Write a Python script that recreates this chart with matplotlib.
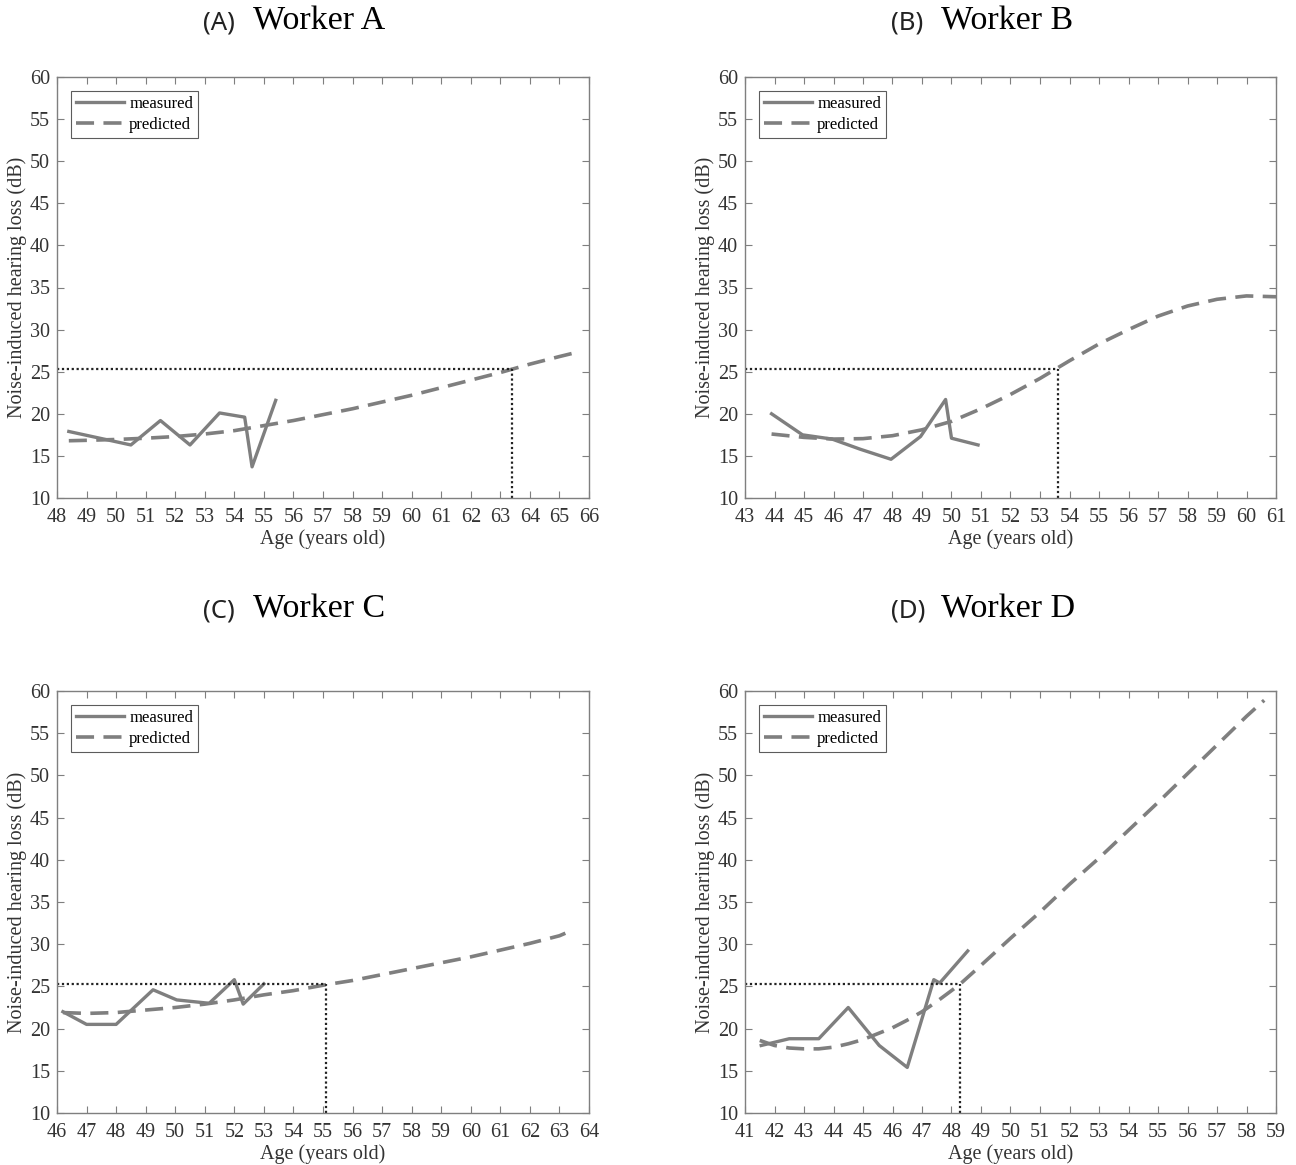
import matplotlib
matplotlib.use('Agg')
import matplotlib.pyplot as plt
import numpy as np

# measured hearing loss per worker (age, dB)
A_meas_age = [48.4, 50.5, 51.5, 52.5, 53.5, 54.35, 54.6, 55.4]
A_meas_val = [17.9, 16.3, 19.2, 16.3, 20.1, 19.6, 13.7, 21.6]
B_meas_age = [43.9, 44.95, 45.95, 46.9, 47.95, 48.95, 49.8, 50.0, 50.9]
B_meas_val = [20.0, 17.5, 17.0, 15.8, 14.6, 17.3, 21.7, 17.1, 16.3]
C_meas_age = [46.2, 47.0, 48.0, 49.25, 50.05, 51.15, 52.0, 52.3, 53.0]
C_meas_val = [22.0, 20.5, 20.5, 24.6, 23.4, 23.0, 25.8, 22.9, 25.3]
D_meas_age = [41.55, 42.5, 43.5, 44.5, 45.55, 46.5, 47.4, 47.6, 48.55]
D_meas_val = [18.0, 18.8, 18.8, 22.5, 18.0, 15.4, 25.8, 25.4, 29.2]

# predicted hearing loss curves
A_pred_age = [48.4, 49, 50, 51, 52, 53, 54, 55, 56, 57, 58, 59, 60, 61, 62, 63, 64, 65, 65.7]
A_pred_val = [16.8, 16.85, 16.95, 17.1, 17.3, 17.6, 18.0, 18.6, 19.2, 19.9, 20.6,
              21.4, 22.2, 23.1, 24.0, 24.9, 25.9, 26.8, 27.4]
B_pred_age = [43.9, 45, 46, 47, 48, 49, 50, 51, 52, 53, 54, 55, 56, 57, 58, 59, 60, 61]
B_pred_val = [17.6, 17.2, 17.0, 17.05, 17.4, 18.1, 19.1, 20.6, 22.3, 24.2, 26.3,
              28.3, 30.0, 31.6, 32.8, 33.6, 34.0, 33.9]
C_pred_age = [46.2, 47, 48, 49, 50, 51, 52, 53, 54, 55.1, 56, 57, 58, 59, 60, 61, 62, 63, 63.2]
C_pred_val = [21.9, 21.8, 21.9, 22.2, 22.5, 22.9, 23.4, 24.0, 24.5, 25.2, 25.7,
              26.4, 27.1, 27.8, 28.5, 29.3, 30.1, 31.0, 31.3]
D_pred_age = [41.5, 42, 42.5, 43, 43.5, 44, 44.5, 45, 45.5, 46, 46.5, 47, 47.5, 48,
              48.3, 49, 50, 51, 52, 53, 54, 55, 56, 57, 58, 58.6]
D_pred_val = [18.6, 18.0, 17.7, 17.6, 17.6, 17.8, 18.2, 18.7, 19.4, 20.1, 21.0,
              22.0, 23.2, 24.5, 25.3, 27.5, 30.7, 33.8, 37.1, 40.2, 43.5, 46.8,
              50.2, 53.6, 57.0, 58.9]

# age at which the predicted curve reaches the 25.3 dB limit
limit_db = 25.3
A_limit_age = 63.4
B_limit_age = 53.6
C_limit_age = 55.1
D_limit_age = 48.3

x_ranges = [(48, 66), (43, 61), (46, 64), (41, 59)]
letters = ['A', 'B', 'C', 'D']

serif = 'Liberation Serif'
grey = '#7f7f7f'

W, H = 1296, 1165
fig = plt.figure(figsize=(W / 100, H / 100), dpi=100)

# axes boxes in pixels: left, right, top, bottom
boxes = [(57, 589, 77, 498), (745, 1276, 77, 498),
         (57, 589, 691, 1113), (745, 1276, 691, 1113)]
title_y = [30, 30, 617, 617]

meas = [(A_meas_age, A_meas_val), (B_meas_age, B_meas_val),
        (C_meas_age, C_meas_val), (D_meas_age, D_meas_val)]
pred = [(A_pred_age, A_pred_val), (B_pred_age, B_pred_val),
        (C_pred_age, C_pred_val), (D_pred_age, D_pred_val)]
limits = [A_limit_age, B_limit_age, C_limit_age, D_limit_age]

for i in range(4):
    l, r, t, b = boxes[i]
    ax = fig.add_axes([l / W, 1 - b / H, (r - l) / W, (b - t) / H])
    x0, x1 = x_ranges[i]

    ax.plot(meas[i][0], meas[i][1], '-', color=grey, lw=2.4, label='measured')
    ax.plot(pred[i][0], pred[i][1], '--', color=grey, lw=2.6,
            dashes=(5, 2.6), label='predicted')
    ax.plot([x0, limits[i]], [limit_db, limit_db], ':', color='#222222', lw=1.6,
            dashes=(1, 1.2))
    ax.plot([limits[i], limits[i]], [10, limit_db], ':', color='#222222', lw=1.6,
            dashes=(1, 1.2))

    ax.set_xlim(x0, x1)
    ax.set_ylim(10, 60)
    ax.set_xticks(np.arange(x0, x1 + 1))
    ax.set_yticks(np.arange(10, 61, 5))
    ax.tick_params(direction='in', top=True, right=True, length=5, width=0.8,
                   color=grey, labelsize=14.5, labelcolor='#333333')
    ax.tick_params(axis='x', pad=7)
    ax.tick_params(axis='y', pad=5)
    for lab in ax.get_xticklabels() + ax.get_yticklabels():
        lab.set_family(serif)
    for sp in ax.spines.values():
        sp.set_color(grey)
        sp.set_linewidth(1.0)

    ax.set_xlabel('Age (years old)', family=serif, fontsize=14.5,
                  color='#333333', labelpad=2)
    ax.set_ylabel('Noise-induced hearing loss (dB)', family=serif, fontsize=14.5,
                  color='#333333', labelpad=2)

    leg = ax.legend(loc='upper left', bbox_to_anchor=(0.026, 0.967),
                    borderaxespad=0, fancybox=False, handlelength=2.9,
                    handletextpad=0.3, labelspacing=0.3, borderpad=0.3,
                    prop={'family': serif, 'size': 12})
    leg.get_frame().set_edgecolor('#333333')
    leg.get_frame().set_linewidth(0.8)

    fig.text((l + 146) / W, 1 - title_y[i] / H, '({})'.format(letters[i]),
             family='Noto Sans', fontsize=18.5, va='baseline', ha='left',
             color='#222222')
    fig.text((l + 196) / W, 1 - title_y[i] / H, 'Worker {}'.format(letters[i]),
             family=serif, fontsize=24.5, va='baseline', ha='left')

plt.savefig('out.png', dpi=100)
plt.close()
